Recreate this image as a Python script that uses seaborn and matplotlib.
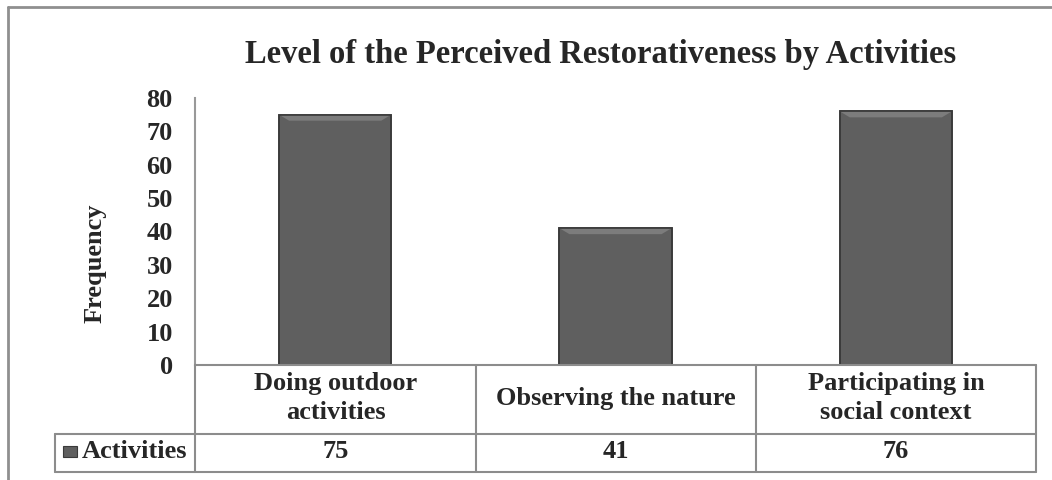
import matplotlib
matplotlib.use("Agg")
import matplotlib.pyplot as plt
import seaborn as sns
import pandas as pd
from matplotlib.lines import Line2D
from matplotlib.patches import Rectangle, Polygon

categories = ["Doing outdoor\nactivities", "Observing the nature", "Participating in\nsocial context"]
values = [75, 41, 76]
series_name = "Activities"
title = "Level of the Perceived Restorativeness by Activities"
y_ticks = [0, 10, 20, 30, 40, 50, 60, 70, 80]

sns.set_style("white")
plt.rcParams["font.family"] = ["Liberation Serif", "DejaVu Serif"]
plt.rcParams["font.weight"] = "bold"

W, H = 1052, 480
fig = plt.figure(figsize=(W / 100, H / 100), dpi=100)

def fx(px):
    return px / W

def fy(py):
    return 1 - py / H

ax = fig.add_axes([fx(195), fy(365), fx(1036) - fx(195), fy(98) - fy(365)])
df = pd.DataFrame({"cat": categories, "val": values})
sns.barplot(data=df, x="cat", y="val", ax=ax, color="#5f5f5f", width=0.4,
            edgecolor="#3a3a3a", linewidth=1.2, saturation=1)

ax.set_ylim(0, 80)
ax.set_xlim(-0.5, len(categories) - 0.5)

# bevel highlight on top of each bar (like the Excel style)
dx = 10 * 3 / 841
dy = 6 * 80 / 267
for p in ax.patches:
    x0, w, h = p.get_x(), p.get_width(), p.get_height()
    ax.add_patch(Polygon([[x0, h], [x0 + w, h], [x0 + w - dx, h - dy], [x0 + dx, h - dy]],
                         closed=True, facecolor="#7c7c7c", edgecolor="none", zorder=3))
    ax.add_patch(Rectangle((x0, 0), w, h, facecolor="none", edgecolor="#3a3a3a",
                           lw=1.2, zorder=4))

ax.set_yticks(y_ticks)
ax.set_yticklabels([str(t) for t in y_ticks], fontsize=19, fontweight="bold")
ax.tick_params(axis="y", length=0, pad=16)
ax.set_xticks([])
ax.set_xlabel("")
ax.set_ylabel("Frequency", fontsize=19, fontweight="bold")
ax.yaxis.set_label_coords(-0.105, 0.382)
for s in ["top", "right", "bottom"]:
    ax.spines[s].set_visible(False)
ax.spines["left"].set_color("#999999")
ax.spines["left"].set_linewidth(1.5)

fig.text(fx(601), fy(55), title, ha="center", va="center", fontsize=23.5, fontweight="bold")

# outer chart border
lc = "#8f8f8f"
fig.add_artist(Line2D([fx(8), 1.0], [fy(7), fy(7)], color=lc, lw=2))
fig.add_artist(Line2D([fx(8), fx(8)], [fy(7), 0.0], color=lc, lw=2))

# data table
cols = [195, 476, 756, 1036]
tl = "#8c8c8c"
fig.add_artist(Line2D([fx(195), fx(1036)], [fy(365), fy(365)], color=tl, lw=1.5))
for yy in [434, 472]:
    fig.add_artist(Line2D([fx(55), fx(1036)], [fy(yy), fy(yy)], color=tl, lw=1.5))
fig.add_artist(Line2D([fx(55), fx(55)], [fy(434), fy(472)], color=tl, lw=1.5))
for cx in cols:
    fig.add_artist(Line2D([fx(cx), fx(cx)], [fy(365), fy(472)], color=tl, lw=1.5))

for i, (c, v) in enumerate(zip(categories, values)):
    mid = (cols[i] + cols[i + 1]) / 2
    fig.text(fx(mid), fy(398), c, ha="center", va="center", fontsize=19,
             fontweight="bold", linespacing=1.3)
    fig.text(fx(mid), fy(452), str(v), ha="center", va="center", fontsize=19,
             fontweight="bold")

fig.add_artist(Rectangle((fx(63), fy(457)), fx(14), fy(446) - fy(457),
                         facecolor="#5f5f5f", edgecolor="#3a3a3a", lw=0.8))
fig.text(fx(82), fy(452), series_name, ha="left", va="center", fontsize=19,
         fontweight="bold")

fig.savefig("out.png", dpi=100)
